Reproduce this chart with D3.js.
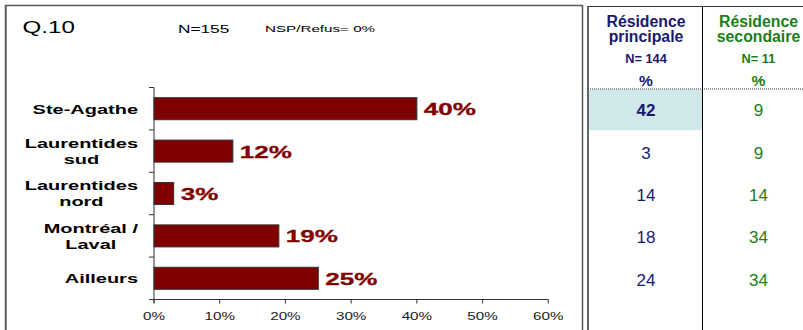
<!DOCTYPE html>
<html>
<head>
<meta charset="utf-8">
<script src="https://cdn.jsdelivr.net/npm/d3@7"></script>
<style>
  html, body { margin: 0; padding: 0; background: #fff; }
  svg { display: block; font-family: "Liberation Sans", Arial, sans-serif; }
</style>
</head>
<body>
<script>
// Lieu de résidence des répondants (Q.10)
const categories = ["Ste-Agathe", "Laurentides\nsud", "Laurentides\nnord", "Montréal /\nLaval", "Ailleurs"];
const totalPct = [40, 12, 3, 19, 25];
const principalePct = [42, 3, 14, 18, 24];
const secondairePct = [9, 9, 14, 34, 34];
const xTicks = [0, 10, 20, 30, 40, 50, 60];
const highlightRow = 0;

const questionLabel = "Q.10";
const sampleLabel = "N=155";
const nspLabel = "NSP/Refus= 0%";
const colHeaders = [
  { lines: ["Résidence", "principale"], n: "N= 144", color: "#191970" },
  { lines: ["Résidence", "secondaire"], n: "N= 11", color: "#1b7d1b" }
];

const W = 803, H = 330;
const SX = 1.5; // horizontal stretch of chart lettering

const svg = d3.select("body").append("svg").attr("width", W).attr("height", H);

// Stretched text helper for the chart panel
function stext(g, x, y, str, opts) {
  return g.append("text")
    .attr("transform", `translate(${x},${y}) scale(${opts.sx || SX},1)`)
    .attr("text-anchor", opts.anchor || "start")
    .attr("font-size", opts.size)
    .attr("font-weight", opts.weight || "normal")
    .attr("fill", opts.fill || "#000")
    .text(str);
}

// Chart panel frame
svg.append("path")
  .attr("d", `M5.5,${H} V5.5 H582.5 V${H}`)
  .attr("fill", "none").attr("stroke", "#555").attr("stroke-width", 1.5);
svg.append("line").attr("x1", 6.5).attr("x2", 6.5).attr("y1", 6).attr("y2", H)
  .attr("stroke", "#888").attr("stroke-width", 1);

const chart = svg.append("g");

stext(chart, 22.5, 32.5, questionLabel, { size: 17, sx: 1.42 });
stext(chart, 178, 33, sampleLabel, { size: 11.5, sx: 1.5 });
stext(chart, 265, 31.5, nspLabel, { size: 9.5, sx: 1.6 });

const x = d3.scaleLinear().domain([0, 60]).range([154, 548.3]);
const y = d3.scaleBand().domain(categories).range([87.5, 299.5]).paddingInner(0.48).paddingOuter(0.24);

// Bars
chart.selectAll("rect.bar")
  .data(categories)
  .join("rect")
  .attr("class", "bar")
  .attr("x", x(0))
  .attr("y", d => y(d))
  .attr("width", (d, i) => x(totalPct[i]) - x(0))
  .attr("height", y.bandwidth())
  .attr("fill", "#800000")
  .attr("stroke", "#333")
  .attr("stroke-width", 1);

// Value labels
categories.forEach((c, i) => {
  const cy = y(c) + y.bandwidth() / 2;
  stext(chart, x(totalPct[i]) + 7, cy + 6.5, totalPct[i] + "%",
    { size: 16.8, weight: "bold", fill: "#800000", sx: 1.55 })
    .attr("stroke", "#800000").attr("stroke-width", 0.3);
});

// Category labels: lines centred on each other, block right-aligned to the axis
const labelRight = 138, labelSX = 1.48;
categories.forEach(c => {
  const cy = y(c) + y.bandwidth() / 2;
  const lines = c.split("\n");
  const lh = 16;
  const base = cy + 4.8 - (lines.length - 1) * lh / 2;
  const nodes = lines.map((ln, k) =>
    stext(chart, 0, base + k * lh, ln, { size: 13.5, weight: "bold", anchor: "middle", sx: labelSX }));
  const maxW = d3.max(nodes, n => n.node().getComputedTextLength() * labelSX);
  const cx = labelRight - maxW / 2;
  nodes.forEach((n, k) => n.attr("transform", `translate(${cx},${base + k * lh}) scale(${labelSX},1)`));
});

// Y axis (band edges as ticks)
const yEdges = categories.map(c => y(c) - y.step() * y.paddingInner() / 2).concat([299.5]);
chart.append("line").attr("x1", x(0)).attr("x2", x(0)).attr("y1", 87.5).attr("y2", 303)
  .attr("stroke", "#333").attr("stroke-width", 1);
chart.selectAll("line.ytick").data(yEdges).join("line").attr("class", "ytick")
  .attr("x1", x(0) - 5).attr("x2", x(0)).attr("y1", d => d).attr("y2", d => d)
  .attr("stroke", "#333").attr("stroke-width", 1);

// X axis
chart.append("line").attr("x1", x(0)).attr("x2", x(60)).attr("y1", 299.5).attr("y2", 299.5)
  .attr("stroke", "#333").attr("stroke-width", 1);
chart.selectAll("line.xtick").data(xTicks).join("line").attr("class", "xtick")
  .attr("x1", d => x(d)).attr("x2", d => x(d)).attr("y1", 299.5).attr("y2", 303.5)
  .attr("stroke", "#333").attr("stroke-width", 1);
xTicks.forEach(t => {
  stext(chart, x(t), 320, t + "%", { size: 10.5, anchor: "middle", fill: "#222", sx: 1.45 });
});

// Table panel
const colX = [588, 702, 813];
const table = svg.append("g");

table.append("rect")
  .attr("x", colX[0] + 1).attr("y", 89.5)
  .attr("width", colX[1] - colX[0] - 1)
  .attr("height", y(categories[highlightRow]) + y.bandwidth() / 2 + 21.5 - 89.5)
  .attr("fill", "#d0e8ea");

table.append("line").attr("x1", colX[0]).attr("x2", W).attr("y1", 89).attr("y2", 89)
  .attr("stroke", "#333").attr("stroke-width", 1).attr("stroke-dasharray", "1,1");

table.append("line").attr("x1", colX[0] - 0.5).attr("x2", W).attr("y1", 6.5).attr("y2", 6.5)
  .attr("stroke", "#333").attr("stroke-width", 1);
table.append("line").attr("x1", colX[0]).attr("x2", colX[0]).attr("y1", 6).attr("y2", H)
  .attr("stroke", "#555").attr("stroke-width", 1.8);
table.append("line").attr("x1", colX[1] + 0.5).attr("x2", colX[1] + 0.5).attr("y1", 6).attr("y2", H)
  .attr("stroke", "#000").attr("stroke-width", 1);

colHeaders.forEach((h, j) => {
  const cx = (colX[j] + colX[j + 1]) / 2 + 1;
  const g = table.append("g").attr("fill", h.color).attr("font-weight", "bold").attr("text-anchor", "middle");
  g.append("text").attr("x", cx).attr("y", 26.5).attr("font-size", 15.8).text(h.lines[0]);
  g.append("text").attr("x", cx).attr("y", 42.3).attr("font-size", 15.8).text(h.lines[1]);
  g.append("text").attr("x", cx).attr("y", 62.5).attr("font-size", 12.8).text(h.n);
  g.append("text").attr("x", cx).attr("y", 85.5).attr("font-size", 15.5).text("%");
});

const cols = [principalePct, secondairePct];
cols.forEach((vals, j) => {
  const cx = (colX[j] + colX[j + 1]) / 2 + 1;
  table.selectAll(null).data(categories).join("text")
    .attr("x", cx)
    .attr("y", d => y(d) + y.bandwidth() / 2 + 1.5 + 6)
    .attr("text-anchor", "middle")
    .attr("font-size", 17)
    .attr("font-weight", (d, i) => (j === 0 && i === highlightRow) ? "bold" : "normal")
    .attr("fill", colHeaders[j].color)
    .text((d, i) => vals[i]);
});
</script>
</body>
</html>
